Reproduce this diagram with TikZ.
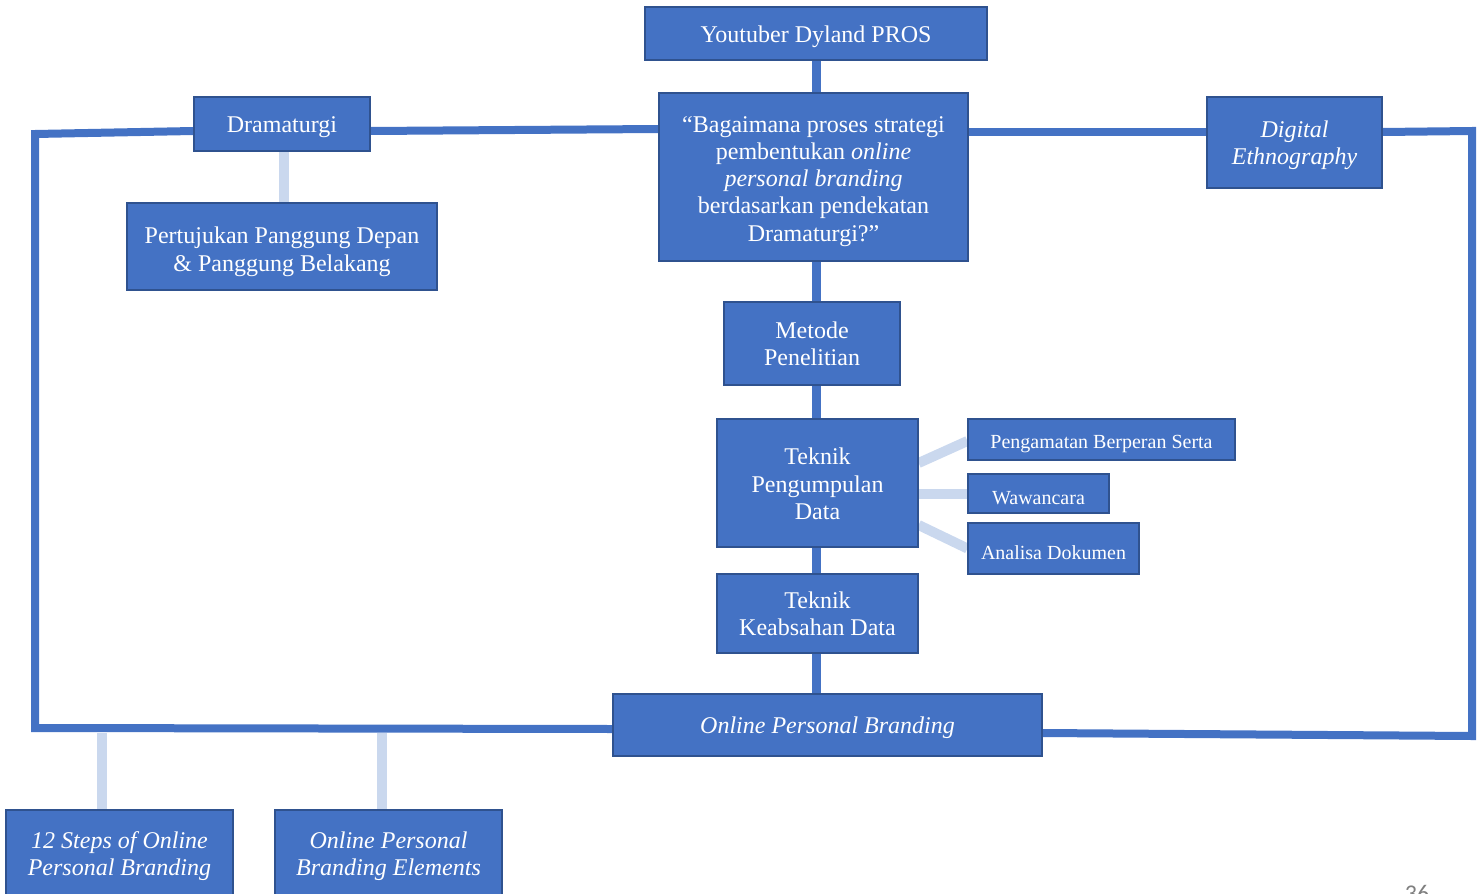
\documentclass[tikz,border=0pt]{standalone}
\usepackage{fontspec}
\setmainfont{Liberation Serif}
\newfontfamily\pagefont{Carlito}
\usetikzlibrary{backgrounds}
\definecolor{boxblue}{HTML}{4472C4}
\definecolor{boxedge}{HTML}{2F528F}
\definecolor{lightlink}{HTML}{CAD8EE}
\definecolor{pagegray}{HTML}{7F7F7F}
\newcommand\mystrut[1]{\rule{0pt}{#1}}
\tikzset{
  bx/.style={fill=boxblue, draw=boxedge, line width=1.2pt, text=white, align=center, inner sep=0pt,
    font=\fontsize{24}{27.3}\selectfont, execute at begin node={\rule{0pt}{23pt}}},
  smallbx/.style={bx, font=\fontsize{20}{22}\selectfont, execute at begin node={\rule{0pt}{19.5pt}}},
  frame/.style={draw=boxblue, line width=8pt, line join=miter},
  spine/.style={draw=boxblue, line width=9pt},
  light/.style={draw=lightlink, line width=10pt}
}
\begin{document}
\begin{tikzpicture}[x=1pt,y=-1pt]
\useasboundingbox (0,0) rectangle (1483,894);
% nodes
\node[bx, minimum width=342pt, minimum height=53pt] (yt) at (816,33.5) {Youtuber Dyland PROS};
\node[bx, minimum width=309pt, minimum height=168pt] (q) at (813.5,177)
  {\mystrut{24.5pt}“Bagaimana proses strategi\\ pembentukan \emph{online}\\ \emph{personal branding}\\ berdasarkan pendekatan\\ Dramaturgi?”};
\node[bx, minimum width=176pt, minimum height=54pt] (dram) at (282,124) {Dramaturgi};
\node[bx, font=\fontsize{24}{28}\selectfont, minimum width=310pt, minimum height=87pt] (pert) at (282,246.5) {\mystrut{26.5pt}Pertujukan Panggung Depan\\ \& Panggung Belakang};
\node[bx, minimum width=175pt, minimum height=91pt] (dig) at (1294.5,142.5) {\mystrut{22.5pt}\emph{Digital}\\ \emph{Ethnography}};
\node[bx, minimum width=176pt, minimum height=83pt] (met) at (812,343.5) {Metode\\ Penelitian};
\node[bx, minimum width=201pt, minimum height=128pt] (tpd) at (817.5,483) {\mystrut{18.5pt}Teknik\\ Pengumpulan\\ Data};
\node[smallbx, minimum width=267pt, minimum height=41pt] (peng) at (1101.5,439.5) {Pengamatan Berperan Serta};
\node[smallbx, minimum width=141pt, minimum height=39pt] (waw) at (1038.5,493.5) {Wawancara};
\node[smallbx, minimum width=171pt, minimum height=51pt] (ana) at (1053.5,548.5) {Analisa Dokumen};
\node[bx, minimum width=201pt, minimum height=79pt] (tkd) at (817.5,613.5) {Teknik\\ Keabsahan Data};
\node[bx, minimum width=429pt, minimum height=62pt] (opb) at (827.5,725) {\emph{Online Personal Branding}};
\node[bx, minimum width=227pt, minimum height=87pt] (steps) at (119.5,853.5) {\mystrut{22.5pt}\emph{12 Steps of Online}\\ \emph{Personal Branding}};
\node[bx, minimum width=227pt, minimum height=87pt] (elem) at (388.5,853.5) {\mystrut{22.5pt}\emph{Online Personal}\\ \emph{Branding Elements}};
\node[text=pagegray, font=\pagefont\fontsize{24}{28}\selectfont, anchor=base] (pg) at (1417,901) {36};
% frame corners
\coordinate (tl) at (35,134);
\coordinate (tr) at (1472,131);
\coordinate (br) at (1472,736);
\coordinate (bl) at (35,728);
\coordinate (c1) at (102,733);
\coordinate (c2) at (382,733);
\coordinate (sp) at (816,0);
\begin{scope}[on background layer]
  % frame
  \draw[frame] ([yshift=-4pt]opb.west) -- (bl) -- (tl) -- ([yshift=-7pt]dram.west);
  \draw[frame] ([yshift=-7pt]dram.east) -- ([yshift=48pt]q.west);
  \draw[frame] ([yshift=45pt]q.east) -- ([yshift=10.5pt]dig.west);
  \draw[frame] ([yshift=10.5pt]dig.east) -- (tr) -- (br) -- ([yshift=-8pt]opb.east);
  % spine
  \draw[spine] (yt.south -| sp) -- (q.north -| sp);
  \draw[spine] (q.south -| sp) -- (met.north -| sp);
  \draw[spine] (met.south -| sp) -- (tpd.north -| sp);
  \draw[spine] (tpd.south -| sp) -- (tkd.north -| sp);
  \draw[spine] (tkd.south -| sp) -- (opb.north -| sp);
  % light links
  \draw[light] ([xshift=2pt]dram.south) -- ([xshift=2pt]pert.north);
  \draw[light] ([yshift=20pt]tpd.east) -- ([yshift=-1.5pt]peng.west);
  \draw[light] (tpd.east |- waw.west) -- (waw.west);
  \draw[light] ([yshift=-42pt]tpd.east) -- (ana.west);
  \draw[light] (c1) -- (c1 |- steps.north);
  \draw[light] (c2) -- (c2 |- elem.north);
\end{scope}
\end{tikzpicture}
\end{document}
